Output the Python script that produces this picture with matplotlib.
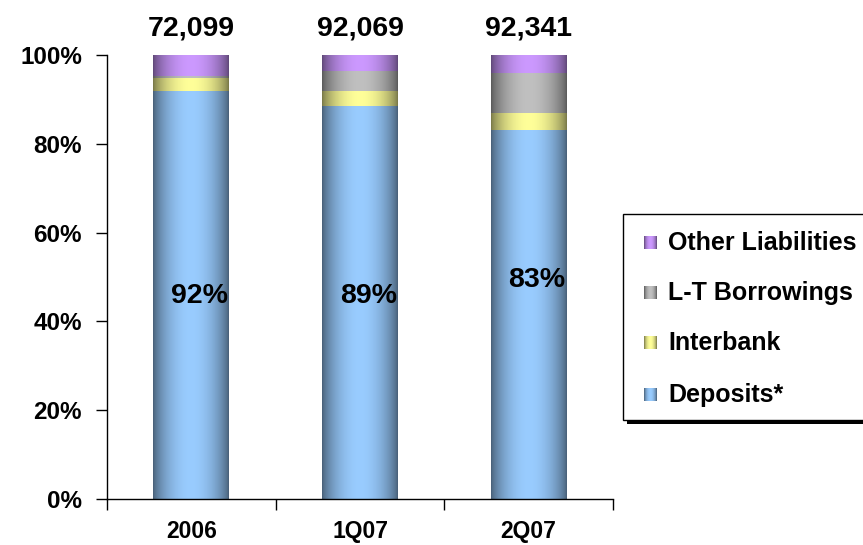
import numpy as np
import matplotlib
matplotlib.use("Agg")
import matplotlib.pyplot as plt
from matplotlib.patches import Rectangle
from matplotlib.colors import to_rgb

plt.rcParams['font.family'] = ['Liberation Sans', 'DejaVu Sans']
plt.rcParams['font.weight'] = 'bold'

# Funding mix (% of total liabilities) per period
periods = ["2006", "1Q07", "2Q07"]
totals = ["72,099", "92,069", "92,341"]
deposits = [91.9, 88.6, 83.1]
interbank = [3.0, 3.3, 3.8]
lt_borrowings = [0.4, 4.4, 9.0]
other_liabilities = [4.7, 3.7, 4.1]

series_names = ["Deposits*", "Interbank", "L-T Borrowings", "Other Liabilities"]
series_values = [deposits, interbank, lt_borrowings, other_liabilities]
series_colors = ["#99CCFF", "#FFFF99", "#C0C0C0", "#CC99FF"]

y_ticks = [0, 20, 40, 60, 80, 100]
y_tick_labels = ["0%", "20%", "40%", "60%", "80%", "100%"]


def shaded_strip(color, n=200):
    """Horizontal cylinder-like shading: dark edges, bright centre."""
    t = np.linspace(0, 1, n)
    f = 0.46 + 0.54 * np.clip(np.sin(np.pi * t), 0, 1) ** 0.7
    rgb = np.array(to_rgb(color))
    return (f[:, None] * rgb[None, :])[None, :, :]


W, H = 863, 545
fig = plt.figure(figsize=(W / 100, H / 100), dpi=100)
ax = fig.add_axes([107 / W, 1 - 499 / H, (613 - 107) / W, (499 - 55) / H])

bar_w = 0.45
x = np.arange(len(periods))
bottoms = np.zeros(len(periods))
for vals, col in zip(series_values, series_colors):
    for i, v in enumerate(vals):
        if v <= 0:
            continue
        ax.imshow(shaded_strip(col), extent=[x[i] - bar_w / 2, x[i] + bar_w / 2,
                                              bottoms[i], bottoms[i] + v],
                  aspect='auto', interpolation='bilinear', zorder=2)
    bottoms += np.array(vals)

# Deposit share labels
dep_label_y = [44.1, 44.1, 47.7]
for i, v in enumerate(deposits):
    ax.text(x[i] + 0.05, dep_label_y[i], f"{v:.0f}%", ha='center', va='baseline',
            fontsize=20.5, fontweight='bold', color='black', zorder=3)

# Totals above bars
for i, t in enumerate(totals):
    ax.text(x[i], 104.3, t, ha='center', va='baseline', fontsize=20.5,
            fontweight='bold', color='black', clip_on=False)

ax.set_xlim(-0.5, len(periods) - 0.5)
ax.set_ylim(0, 100)
ax.set_yticks(y_ticks)
ax.set_yticklabels(y_tick_labels)
ax.set_xticks(np.arange(-0.5, len(periods), 1.0))
ax.set_xticklabels([])
ax.set_xticks(x, minor=True)
ax.set_xticklabels(periods, minor=True)
ax.tick_params(axis='x', which='major', direction='out', length=8, width=1)
ax.tick_params(axis='x', which='minor', length=0, pad=15, labelsize=16.5)
ax.tick_params(axis='y', direction='out', length=8, width=1, pad=10, labelsize=17.5)
for lab in ax.get_yticklabels() + ax.get_xticklabels(minor=True):
    lab.set_fontweight('bold')
for s in ['top', 'right']:
    ax.spines[s].set_visible(False)
for s in ['left', 'bottom']:
    ax.spines[s].set_linewidth(1)

# Legend panel with drop shadow
lax = fig.add_axes([0, 0, 1, 1], zorder=5)
lax.set_xlim(0, W)
lax.set_ylim(H, 0)
lax.axis('off')
lax.add_patch(Rectangle((627, 218), 260, 206, facecolor='black', edgecolor='none'))
lax.add_patch(Rectangle((623, 214), 260, 206, facecolor='white', edgecolor='black', lw=1))
legend_rows = [243, 293, 343, 395]
for name, col, yc in zip(series_names[::-1], series_colors[::-1], legend_rows):
    lax.imshow(shaded_strip(col, 40), extent=[644, 657, yc + 6.5, yc - 6.5],
               aspect='auto', interpolation='bilinear', zorder=6)
    lax.text(668, yc, name, ha='left', va='center', fontsize=18,
             fontweight='bold', color='black', zorder=6)

fig.savefig("out.png", dpi=100)
